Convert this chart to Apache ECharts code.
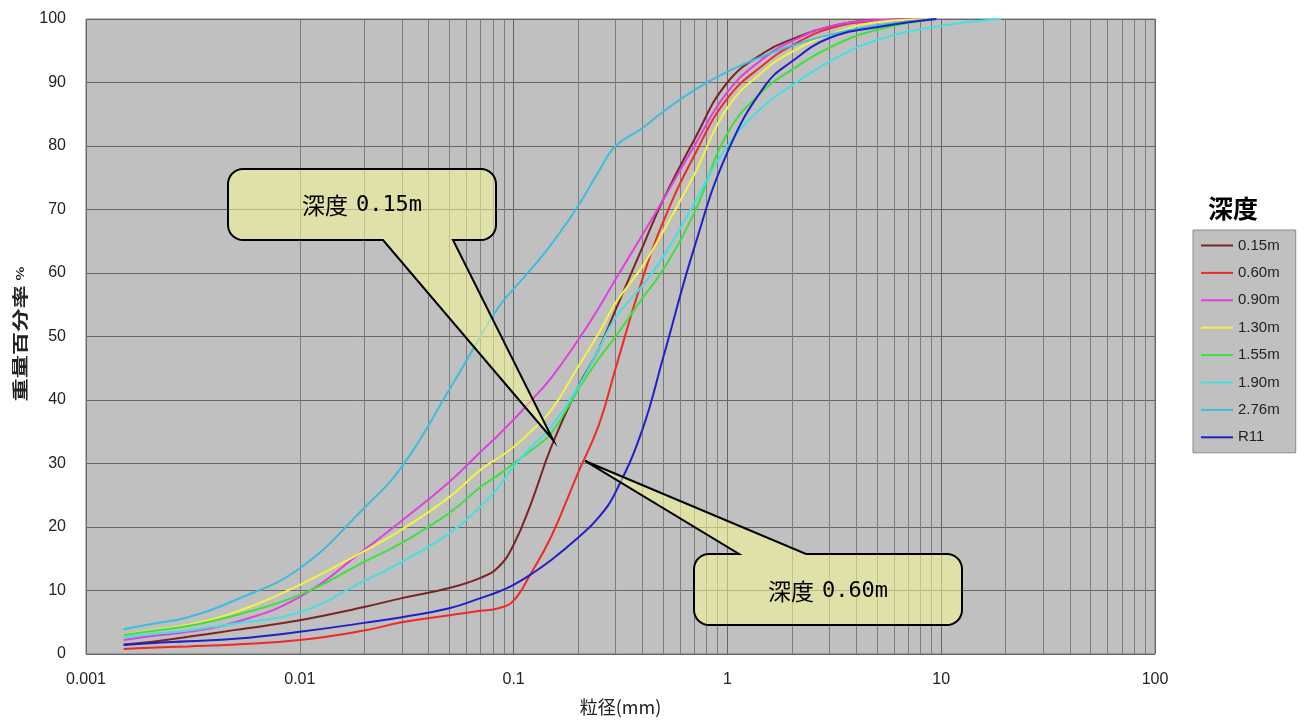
<!DOCTYPE html>
<html><head><meta charset="utf-8">
<script src="https://cdn.jsdelivr.net/npm/echarts@6/dist/echarts.min.js"></script>
<style>html,body{margin:0;padding:0;background:#fff}#c{width:1306px;height:724px}</style>
</head><body><div id="c"></div>
<script>
// grain size (mm)
const sizes = [0.0015,0.002,0.003,0.005,0.01,0.02,0.03,0.05,0.07,0.085,0.1,0.12,0.15,0.2,0.25,0.3,0.4,0.5,0.7,1,1.5,2,3,5,9.5,19];
// passing percentage by depth
const d015 = [1.5,1.9,2.7,3.8,5.3,7.4,8.8,10.4,12.0,13.7,17.2,23.5,32.6,42,48,54.2,64,71.5,81,90,94.8,96.8,98.8,99.8,100,null];
const d060 = [0.8,1.0,1.2,1.5,2.2,3.7,5.0,6.1,6.8,7.2,8.4,12.6,18.5,28.5,36,45,59,68,78.5,87.5,93,95.8,98.5,99.7,100,null];
const d090 = [2.2,2.8,3.5,5.0,9.0,16.4,21,27.1,31.8,34.5,36.9,39.8,43.5,49.4,54.5,59,66,71.5,80,88.5,94,96.5,98.8,99.8,100,null];
const d130 = [3.0,3.7,4.6,6.6,10.9,16.2,19.6,24.7,29,30.9,32.6,35,38.4,45.2,50.5,55.3,61,66.5,75.5,86,92,94.8,97.5,99.5,100,null];
const d155 = [3.0,3.6,4.4,6.1,9.3,14.5,17.5,22.2,26.3,28.2,30,32,34.8,41.6,46.5,50,56,60.5,69.5,82,89,92,95.5,98.3,100,null];
const d190 = [2.6,3.1,3.7,4.8,6.6,11.5,14.5,19,23.2,26.3,29.5,32.5,35.8,42,48,53,58,62.5,71,80,86.5,89.5,93.3,96.7,98.8,100];
const d276 = [3.9,4.7,5.8,8.5,13.5,23,29.5,41.6,50,54.6,57.5,60.5,64.5,70.5,76,80,82.8,85.4,88.8,91.7,94.3,95.8,97.5,99,100,null];
const dR11 = [1.4,1.7,2.0,2.4,3.5,4.9,5.8,7.2,8.8,9.8,10.9,12.5,14.8,18.3,21.5,25.5,35.3,46.6,64,79,89.5,93.3,97,98.7,100,null];
const seriesNames = ['0.15m','0.60m','0.90m','1.30m','1.55m','1.90m','2.76m','R11'];
const seriesValues = [d015,d060,d090,d130,d155,d190,d276,dR11];
const xTickLabels = ['0.001','0.01','0.1','1','10','100'];
const yTickValues = [0,10,20,30,40,50,60,70,80,90,100];

const colors = ['#7a2424','#f02828','#e040e0','#f2f244','#3ee03e','#44e0e0','#3cbde0','#2020c8'];

const chart = echarts.init(document.getElementById('c'), null, {renderer:'canvas'});

// minor grid values (2..9 per decade)
const minorLines = [];
[0.001,0.01,0.1,1,10].forEach(d => { for (let k=2;k<=9;k++) minorLines.push({xAxis: +(d*k).toPrecision(3)}); });

const series = seriesNames.map((n,i)=>({
  name:n, type:'line', z:5, symbol:'none', showSymbol:false, smooth:0.45,
  lineStyle:{width:2, color:colors[i]}, itemStyle:{color:colors[i]},
  data: sizes.map((s,j)=> seriesValues[i][j]==null ? null : [s, seriesValues[i][j]]).filter(v=>v)
}));
series.unshift({
  name:'_grid', type:'line', data:[], z:1, silent:true,
  markLine:{silent:true, symbol:'none', label:{show:false}, animation:false,
    lineStyle:{color:'#7c7c7c', width:1, type:'solid'}, emphasis:{disabled:true},
    data: minorLines}
});

chart.setOption({
  animation:false,
  backgroundColor:'#ffffff',
  grid:{left:86, top:19, right:151, bottom:70, show:true, backgroundColor:'#c0c0c0', borderColor:'#7a7a7a', borderWidth:1},
  xAxis:{type:'log', logBase:10, min:0.001, max:100,
    axisLine:{show:false}, axisTick:{show:false},
    splitLine:{show:true, lineStyle:{color:'#666', width:1}},
    axisLabel:{margin:18, fontSize:16, color:'#222', fontFamily:'Liberation Sans, Arial',
      formatter:(v)=> xTickLabels[Math.round(Math.log10(v))+3] },
    name:'粒径(mm)', nameLocation:'middle', nameGap:44,
    nameTextStyle:{fontSize:18, color:'#222', fontFamily:'Noto Sans CJK JP'}
  },
  yAxis:{type:'value', min:0, max:100, interval:10,
    axisLine:{show:false}, axisTick:{show:false},
    splitLine:{show:true, lineStyle:{color:'#666', width:1}},
    axisLabel:{margin:20, fontSize:16, color:'#222', fontFamily:'Liberation Sans, Arial',
      formatter:(v)=> yTickValues.includes(v) ? String(v) : ''}
  },
  legend:{data:seriesNames, orient:'vertical', left:1193, top:230,
    backgroundColor:'#c0c0c0', borderColor:'#8a8a8a', borderWidth:1,
    padding:[8,16,8,7], itemWidth:32, itemHeight:14, itemGap:12.4,
    itemStyle:{opacity:0},
    textStyle:{fontSize:15, color:'#222', fontFamily:'Liberation Sans, Arial'},
    selectedMode:false},
  series: series
});

function calloutPoints(box, tip, base, r){
  const [x1,y1,x2,y2] = box;
  const pts = [];
  const arc = (cx,cy,a0,a1)=>{ const n=8; for(let k=0;k<=n;k++){ const a=(a0+(a1-a0)*k/n)*Math.PI/180; pts.push([cx+r*Math.cos(a), cy+r*Math.sin(a)]); } };
  pts.push([x1+r,y1]);
  if (base.edge==='top') { pts.push([base.a,y1]); pts.push(tip); pts.push([base.b,y1]); }
  arc(x2-r, y1+r, -90, 0);
  arc(x2-r, y2-r, 0, 90);
  if (base.edge==='bottom') { pts.push([base.b,y2]); pts.push(tip); pts.push([base.a,y2]); }
  arc(x1+r, y2-r, 90, 180);
  arc(x1+r, y1+r, 180, 270);
  return pts;
}
function callout(box, tip, base, label, value, textPos){
  return [
    {type:'polygon', z:50, shape:{points:calloutPoints(box, tip, base, 15)}, style:{fill:'rgba(250,250,150,0.55)', stroke:'#000', lineWidth:2}},
    {type:'text', z:51, x:textPos[0], y:textPos[1], style:{text:'{a|'+label+'}{b|'+value+'}', align:'center', verticalAlign:'middle',
      rich:{a:{font:'23px "Noto Sans CJK JP"', fill:'#000', padding:[0,8,0,0]}, b:{font:'22px "DejaVu Sans Mono"', fill:'#000'}}}}
  ];
}

const tip1 = chart.convertToPixel({gridIndex:0}, [0.153, 33.7]);
const tip2 = chart.convertToPixel({gridIndex:0}, [0.2158, 30.4]);

chart.setOption({graphic:[
  ...callout([228,169,496,240], tip1, {edge:'bottom', a:383, b:453}, '深度', '0.15m', [362,205]),
  ...callout([694,554,962,625], tip2, {edge:'top', a:739, b:806}, '深度', '0.60m', [828,591]),
  {type:'text', x:1233, y:208, z:60, style:{text:'深度', fill:'#000', font:'bold 25px "Noto Sans CJK JP"', align:'center', verticalAlign:'middle'}},
  {type:'text', x:20, y:334, rotation:Math.PI/2, scaleX:1.45, z:60,
    style:{text:'{a|重量百分率} {b|%}', align:'center', verticalAlign:'middle',
      rich:{a:{font:'bold 16px "Noto Sans CJK JP"', fill:'#222'}, b:{font:'bold 10px "Noto Sans CJK JP"', fill:'#222'}}}}
]});
</script></body></html>
